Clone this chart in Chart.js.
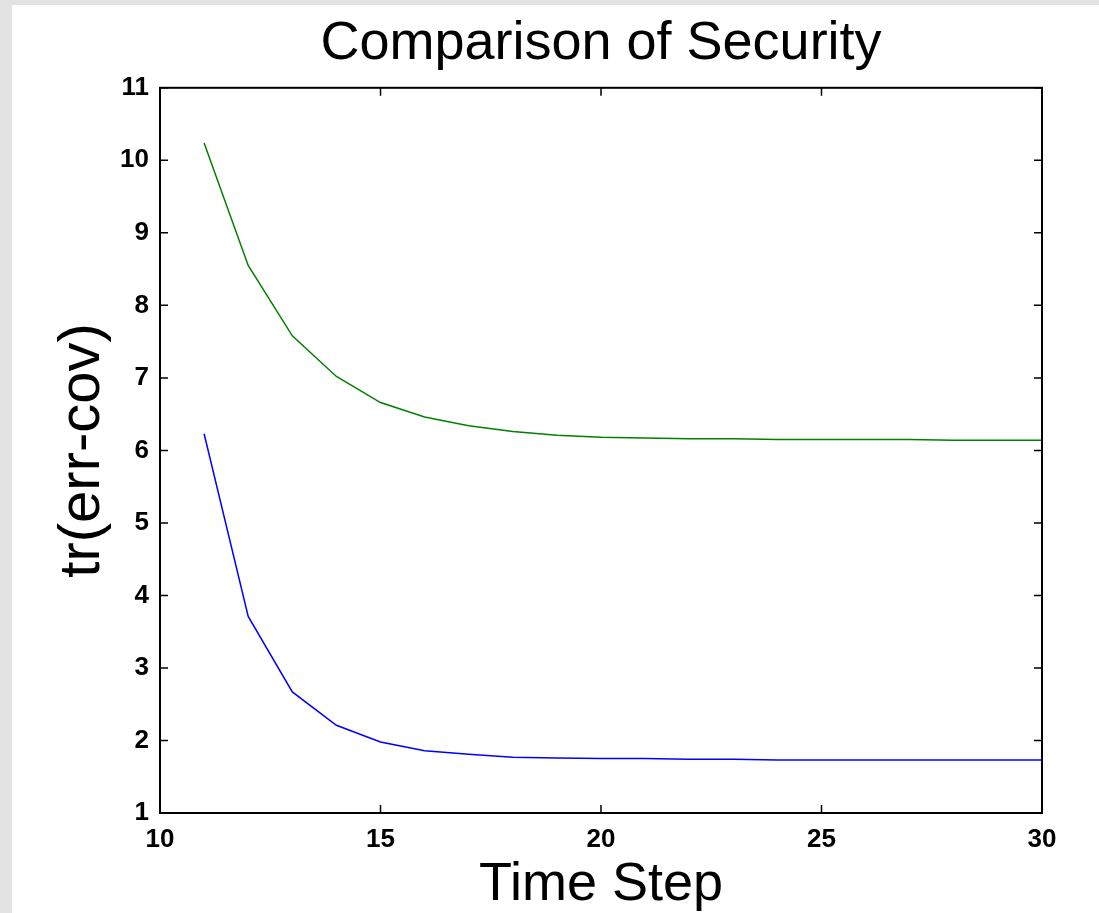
<!DOCTYPE html>
<html lang="en">
<head>
    <meta charset="UTF-8">
    <title>Comparison of Security</title>
    <style>
        html, body {
            margin: 0;
            padding: 0;
            background: #e3e3e3;
        }
        .chart-container {
            width: 1099px;
            height: 913px;
            position: relative;
        }
    </style>
</head>
<body>

<div class="chart-container">
    <canvas id="chartCanvas"></canvas>
</div>

<script src="https://cdn.jsdelivr.net/npm/chart.js"></script>
<script>
    const timeSteps = [11, 12, 13, 14, 15, 16, 17, 18, 19, 20, 21, 22, 23, 24, 25, 26, 27, 28, 29, 30];
    const upperSeries = [10.24, 8.55, 7.58, 7.02, 6.66, 6.46, 6.34, 6.26, 6.21, 6.18, 6.17, 6.16, 6.16, 6.15, 6.15, 6.15, 6.15, 6.14, 6.14, 6.14];
    const lowerSeries = [6.23, 3.71, 2.67, 2.21, 1.98, 1.86, 1.81, 1.77, 1.76, 1.75, 1.75, 1.74, 1.74, 1.73, 1.73, 1.73, 1.73, 1.73, 1.73, 1.73];
    const xTicks = [10, 15, 20, 25, 30];
    const yTicks = [1, 2, 3, 4, 5, 6, 7, 8, 9, 10, 11];

    const fontFamily = '"Liberation Sans", Arial, Helvetica, sans-serif';

    function toPoints(values) {
        return timeSteps.map((t, i) => ({x: t, y: values[i]}));
    }

    // gray page with white figure area, like the matlab figure window
    const backgroundPlugin = {
        id: 'figureBackground',
        beforeDraw(chart) {
            const c = chart.ctx;
            c.save();
            c.fillStyle = '#e3e3e3';
            c.fillRect(0, 0, chart.width, chart.height);
            c.fillStyle = '#ffffff';
            c.fillRect(12, 5, chart.width - 12, chart.height - 5);
            c.restore();
        }
    };

    // box around the plot and inward tick marks on all four sides
    const boxPlugin = {
        id: 'matlabBox',
        afterDatasetsDraw(chart) {
            const c = chart.ctx;
            const a = chart.chartArea;
            const xs = chart.scales.x;
            const ys = chart.scales.y;
            const len = 8;
            c.save();
            c.strokeStyle = '#000';
            c.lineWidth = 1.5;
            c.beginPath();
            xTicks.forEach(v => {
                const px = xs.getPixelForValue(v);
                c.moveTo(px, a.bottom); c.lineTo(px, a.bottom - len);
                c.moveTo(px, a.top); c.lineTo(px, a.top + len);
            });
            yTicks.forEach(v => {
                const py = ys.getPixelForValue(v);
                c.moveTo(a.left, py); c.lineTo(a.left + len, py);
                c.moveTo(a.right, py); c.lineTo(a.right - len, py);
            });
            c.stroke();
            c.lineWidth = 2;
            c.strokeRect(a.left, a.top, a.right - a.left, a.bottom - a.top);
            c.restore();
        }
    };

    const ctx = document.getElementById('chartCanvas').getContext('2d');
    const chart = new Chart(ctx, {
        type: 'line',
        data: {
            datasets: [
                {
                    label: 'upper',
                    data: toPoints(upperSeries),
                    borderColor: '#008000',
                    borderWidth: 1.5,
                    pointRadius: 0,
                    tension: 0,
                    fill: false
                },
                {
                    label: 'lower',
                    data: toPoints(lowerSeries),
                    borderColor: '#0000ff',
                    borderWidth: 1.5,
                    pointRadius: 0,
                    tension: 0,
                    fill: false
                }
            ]
        },
        options: {
            responsive: true,
            maintainAspectRatio: false,
            animation: false,
            layout: {
                padding: {left: 0, right: 57, top: 0, bottom: 0}
            },
            plugins: {
                legend: {display: false},
                tooltip: {enabled: false},
                title: {
                    display: true,
                    text: 'Comparison of Security',
                    fullSize: false,
                    color: '#000',
                    font: {family: fontFamily, size: 54, weight: 'normal'},
                    padding: {top: 12, bottom: 11}
                }
            },
            scales: {
                x: {
                    type: 'linear',
                    min: 10,
                    max: 30,
                    afterBuildTicks(scale) {
                        scale.ticks = xTicks.map(v => ({value: v}));
                    },
                    afterFit(scale) {
                        scale.height = 100;
                    },
                    grid: {display: false, drawTicks: false},
                    border: {display: false},
                    ticks: {
                        color: '#000',
                        padding: 11,
                        maxRotation: 0,
                        font: {family: fontFamily, size: 26, weight: 'bold'}
                    },
                    title: {
                        display: true,
                        text: 'Time Step',
                        color: '#000',
                        font: {family: fontFamily, size: 54, weight: 'normal', lineHeight: 1.0},
                        padding: {top: 0, bottom: 1}
                    }
                },
                y: {
                    type: 'linear',
                    min: 1,
                    max: 11,
                    afterBuildTicks(scale) {
                        scale.ticks = yTicks.map(v => ({value: v}));
                    },
                    afterFit(scale) {
                        scale.width = 160;
                    },
                    grid: {display: false, drawTicks: false},
                    border: {display: false},
                    ticks: {
                        color: '#000',
                        padding: 11,
                        font: {family: fontFamily, size: 26, weight: 'bold'}
                    },
                    title: {
                        display: true,
                        text: 'tr(err-cov)',
                        color: '#000',
                        font: {family: fontFamily, size: 58, weight: 'normal'},
                        padding: {top: 48, bottom: 0}
                    }
                }
            }
        },
        plugins: [backgroundPlugin, boxPlugin]
    });
</script>

</body>
</html>
